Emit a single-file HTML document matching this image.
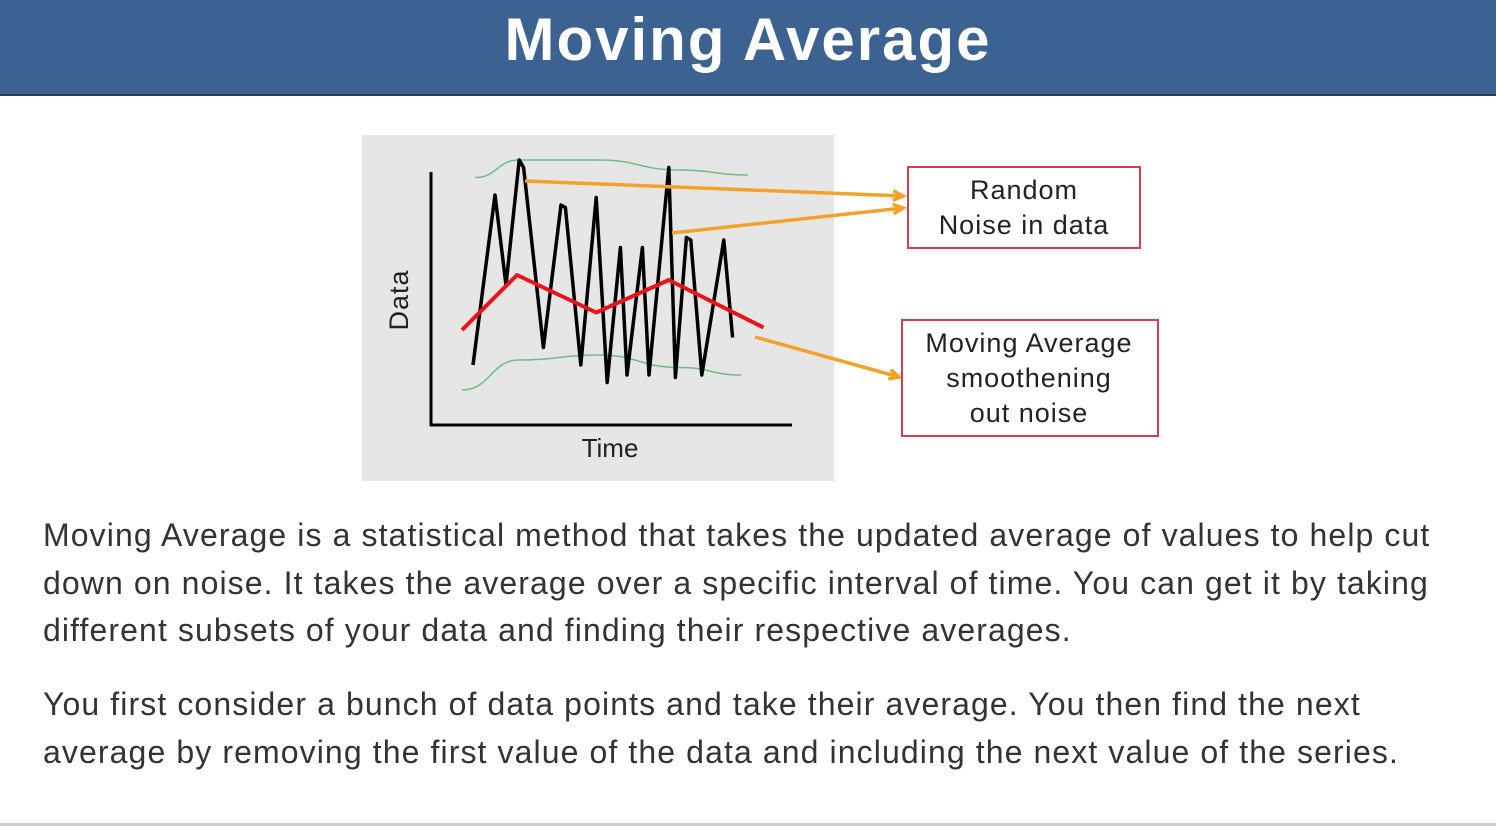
<!DOCTYPE html>
<html><head><meta charset="utf-8"><style>
body{margin:0;width:1496px;height:826px;background:#fff;overflow:hidden;font-family:"Liberation Sans",sans-serif;position:relative}
#hdr{position:absolute;left:0;top:0;width:1496px;height:94px;background:#3b6290;border-bottom:2px solid #2a3d55;color:#fff;font-weight:bold;font-size:60px;letter-spacing:2px;text-align:center;line-height:80px}
.p{position:absolute;left:43px;font-size:32px;letter-spacing:1.1px;color:#333;line-height:47.5px;margin:0;white-space:nowrap}
</style></head><body>
<div id="hdr"><span>Moving Average</span></div>
<svg width="1496" height="500" style="position:absolute;left:0;top:0">
<rect x="362" y="135" width="472" height="346" fill="#e6e6e6"/>
<g id="plot"></g>
<line x1="431" y1="172" x2="431" y2="426" stroke="#000" stroke-width="3"/>
<line x1="430" y1="425" x2="792" y2="425" stroke="#000" stroke-width="3"/>
<text x="408" y="300" transform="rotate(-90 408 300)" text-anchor="middle" font-size="27" letter-spacing="1" fill="#222" font-family="Liberation Sans,sans-serif">Data</text>
<text x="610" y="457" text-anchor="middle" font-size="26" fill="#222" font-family="Liberation Sans,sans-serif">Time</text>
<rect x="908" y="167" width="232" height="81" fill="#fff" stroke="#d04050" stroke-width="2"/>
<text x="1024" y="199" text-anchor="middle" font-size="27" letter-spacing="1" fill="#222" font-family="Liberation Sans,sans-serif">Random</text>
<text x="1024" y="234" text-anchor="middle" font-size="27" letter-spacing="1" fill="#222" font-family="Liberation Sans,sans-serif">Noise in data</text>
<rect x="902" y="320" width="256" height="116" fill="#fff" stroke="#d04050" stroke-width="2"/>
<text x="1029" y="352" text-anchor="middle" font-size="27" letter-spacing="1" fill="#222" font-family="Liberation Sans,sans-serif">Moving Average</text>
<text x="1029" y="387" text-anchor="middle" font-size="27" letter-spacing="1" fill="#222" font-family="Liberation Sans,sans-serif">smoothening</text>
<text x="1029" y="422" text-anchor="middle" font-size="27" letter-spacing="1" fill="#222" font-family="Liberation Sans,sans-serif">out noise</text>
</svg>
<p class="p" style="top:512px">Moving Average is a statistical method that takes the updated average of values to help cut<br>down on noise. It takes the average over a specific interval of time. You can get it by taking<br>different subsets of your data and finding their respective averages.</p>
<p class="p" style="top:681px">You first consider a bunch of data points and take their average. You then find the next<br>average by removing the first value of the data and including the next value of the series.</p>
<div style="position:absolute;left:0;top:823px;width:1496px;height:3px;background:#ccc"></div>
<script>
const noiseT=[0,10,15,21,23,32,40,42,49,56,61,67,70,77,80,89,92,97,99,104,114,118];
const noiseV=[22,90,54,104,101,29,86,85,22,89,15,69,18,69,18,101,17,73,72,18,72,33];
const avgT=[-5,20,56,89,132];
const avgV=[36,58,43,56,37];
const upperT=[1,21,57,94,125];const upperV=[97,104,104,100,98];
const lowerT=[-5,21,57,94,122];const lowerV=[12,24,26,21,18];
const X0=473,XS=2.2,Y0=425,YS=2.5;
const sx=t=>X0+t*XS, sy=v=>Y0-(v+2)*YS;
const g=document.getElementById('plot');
const NS='http://www.w3.org/2000/svg';
function line(T,V,color,w,name){
 const p=document.createElementNS(NS,'polyline');
 p.setAttribute('points',T.map((t,i)=>sx(t)+','+sy(V[i])).join(' '));
 p.setAttribute('fill','none');p.setAttribute('stroke',color);p.setAttribute('stroke-width',w);p.setAttribute('stroke-linejoin','round');
 
 
 g.appendChild(p);}
function curve(T,V,color,w,name){
 const P=T.map((t,i)=>[sx(t),sy(V[i])]);
 let d='M'+P[0][0]+','+P[0][1];
 for(let i=1;i<P.length;i++){const a=P[i-1],b=P[i],m=(a[0]+b[0])/2;d+=`C${m},${a[1]} ${m},${b[1]} ${b[0]},${b[1]}`;}
 const p=document.createElementNS(NS,'path');
 p.setAttribute('d',d);p.setAttribute('fill','none');p.setAttribute('stroke',color);p.setAttribute('stroke-width',w);
 
 
 g.appendChild(p);}
curve(upperT,upperV,'#6cbf84',1.5,'upper-envelope');
curve(lowerT,lowerV,'#6cbf84',1.5,'lower-envelope');
line(noiseT,noiseV,'#000',3.5,'noisy-data-line');
line(avgT,avgV,'#e8141c',4,'moving-average-line');
function arrow(x1,y1,x2,y2,name){
 const l=document.createElementNS(NS,'path');
 const a=Math.atan2(y2-y1,x2-x1),h=11;
 const d=`M${x1},${y1}L${x2},${y2}M${x2-h*Math.cos(a-0.45)},${y2-h*Math.sin(a-0.45)}L${x2},${y2}L${x2-h*Math.cos(a+0.45)},${y2-h*Math.sin(a+0.45)}`;
 l.setAttribute('d',d);l.setAttribute('stroke','#f2a22a');l.setAttribute('stroke-width',3.5);l.setAttribute('fill','none');
 
 
 g.appendChild(l);}
arrow(525,181,903,196,'noise-arrow-1');
arrow(672,233,903,208,'noise-arrow-2');
arrow(755,337,899,377,'ma-arrow');
</script>
</body></html>
